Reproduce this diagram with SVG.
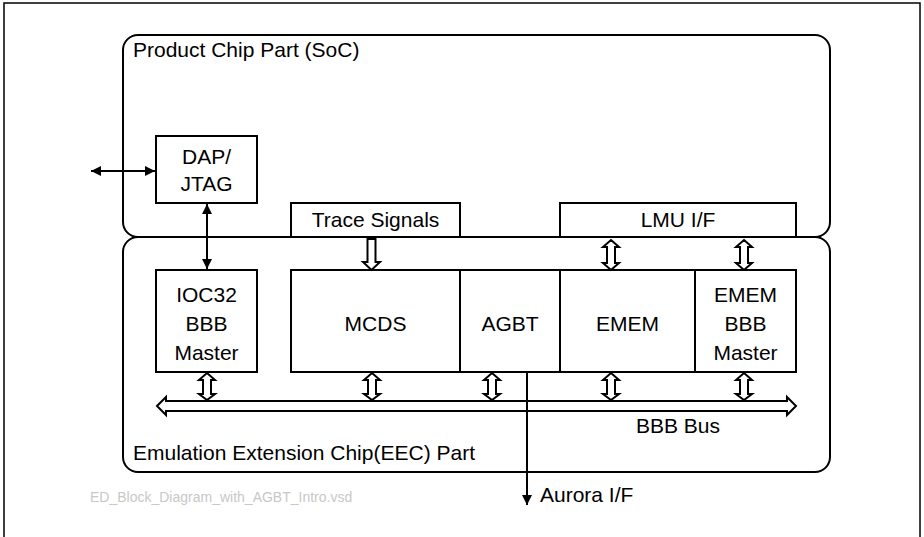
<svg xmlns="http://www.w3.org/2000/svg" width="924" height="537" viewBox="0 0 924 537">
<defs>
<style>
.box{fill:#fff;stroke:#000;stroke-width:2}
.part{fill:none;stroke:#000;stroke-width:2}
.t{font-family:"Liberation Sans",Arial,sans-serif;font-size:21px;fill:#000}
.c{text-anchor:middle}
.ln{stroke:#000;stroke-width:2;fill:none}
.hol{fill:#fff;stroke:#000;stroke-width:2;stroke-linejoin:miter}
</style>
<marker id="ah" viewBox="0 0 10 10" refX="10" refY="5" markerWidth="10" markerHeight="10" markerUnits="userSpaceOnUse" orient="auto-start-reverse">
<path d="M0,0 L10,5 L0,10 Z" fill="#000"/>
</marker>
</defs>
<rect x="0" y="0" width="924" height="537" fill="#fff"/>
<rect x="4" y="3" width="916" height="545" fill="none" stroke="#000" stroke-width="1.5"/>

<g id="soc">
<rect class="part" x="123" y="35" width="707" height="202" rx="15"/>
<text class="t" x="133" y="57">Product Chip Part (SoC)</text>
</g>
<g id="eec">
<rect class="part" x="123" y="237" width="707" height="235" rx="15"/>
<text class="t" x="133" y="460">Emulation Extension Chip(EEC) Part</text>
</g>

<g id="dap">
<rect class="box" x="156" y="136" width="101" height="67"/>
<text class="t c" x="206.5" y="164">DAP/</text>
<text class="t c" x="206.5" y="191">JTAG</text>
</g>
<g id="trace">
<rect class="box" x="291" y="203" width="169" height="34"/>
<text class="t c" x="375.5" y="227">Trace Signals</text>
</g>
<g id="lmu">
<rect class="box" x="560" y="203" width="236" height="34"/>
<text class="t c" x="678" y="227">LMU I/F</text>
</g>
<g id="ioc32">
<rect class="box" x="156" y="270" width="101" height="102"/>
<text class="t c" x="206.5" y="302">IOC32</text>
<text class="t c" x="206.5" y="331">BBB</text>
<text class="t c" x="206.5" y="360">Master</text>
</g>
<g id="mcds">
<rect class="box" x="291" y="270" width="169" height="102"/>
<text class="t c" x="375.5" y="331">MCDS</text>
</g>
<g id="agbt">
<rect class="box" x="460" y="270" width="100" height="102"/>
<text class="t c" x="510" y="331">AGBT</text>
</g>
<g id="emem">
<rect class="box" x="560" y="270" width="135" height="102"/>
<text class="t c" x="627.5" y="331">EMEM</text>
</g>
<g id="ememmaster">
<rect class="box" x="695" y="270" width="101" height="102"/>
<text class="t c" x="745.5" y="302">EMEM</text>
<text class="t c" x="745.5" y="331">BBB</text>
<text class="t c" x="745.5" y="360">Master</text>
</g>

<g id="connectors">
<line class="ln" x1="91" y1="171" x2="155" y2="171" marker-start="url(#ah)" marker-end="url(#ah)"/>
<line class="ln" x1="207" y1="204" x2="207" y2="269" marker-start="url(#ah)" marker-end="url(#ah)"/>
<polygon class="hol" points="367.5,239 375.5,239 375.5,262 380,262 371.5,270 363,262 367.5,262"/>
<g id="dbl">
<polygon class="hol" points="611,240 619,247 615,247 615,263 619,263 611,270 603,263 607,263 607,247 603,247"/>
<polygon class="hol" points="744,240 752,247 748,247 748,263 752,263 744,270 736,263 740,263 740,247 736,247"/>
<polygon class="hol" points="207,373 215,380 211,380 211,394 215,394 207,400 199,394 203,394 203,380 199,380"/>
<polygon class="hol" points="372,373 380,380 376,380 376,394 380,394 372,400 364,394 368,394 368,380 364,380"/>
<polygon class="hol" points="492,373 500,380 496,380 496,394 500,394 492,400 484,394 488,394 488,380 484,380"/>
<polygon class="hol" points="611,373 619,380 615,380 615,394 619,394 611,400 603,394 607,394 607,380 603,380"/>
<polygon class="hol" points="744,373 752,380 748,380 748,394 752,394 744,400 736,394 740,394 740,380 736,380"/>
</g>
<polygon class="hol" points="157,406 166,397 166,401 787,401 787,397 796,406 787,415 787,411 166,411 166,415"/>
<line class="ln" x1="527" y1="372" x2="527" y2="505" marker-end="url(#ah)"/>
</g>
<text class="t" x="636" y="433">BBB Bus</text>
<text class="t" x="540" y="502">Aurora I/F</text>
<text x="90" y="502" font-family="Liberation Sans, Arial, sans-serif" font-size="14" fill="#c8c8c8">ED_Block_Diagram_with_AGBT_Intro.vsd</text>
</svg>
